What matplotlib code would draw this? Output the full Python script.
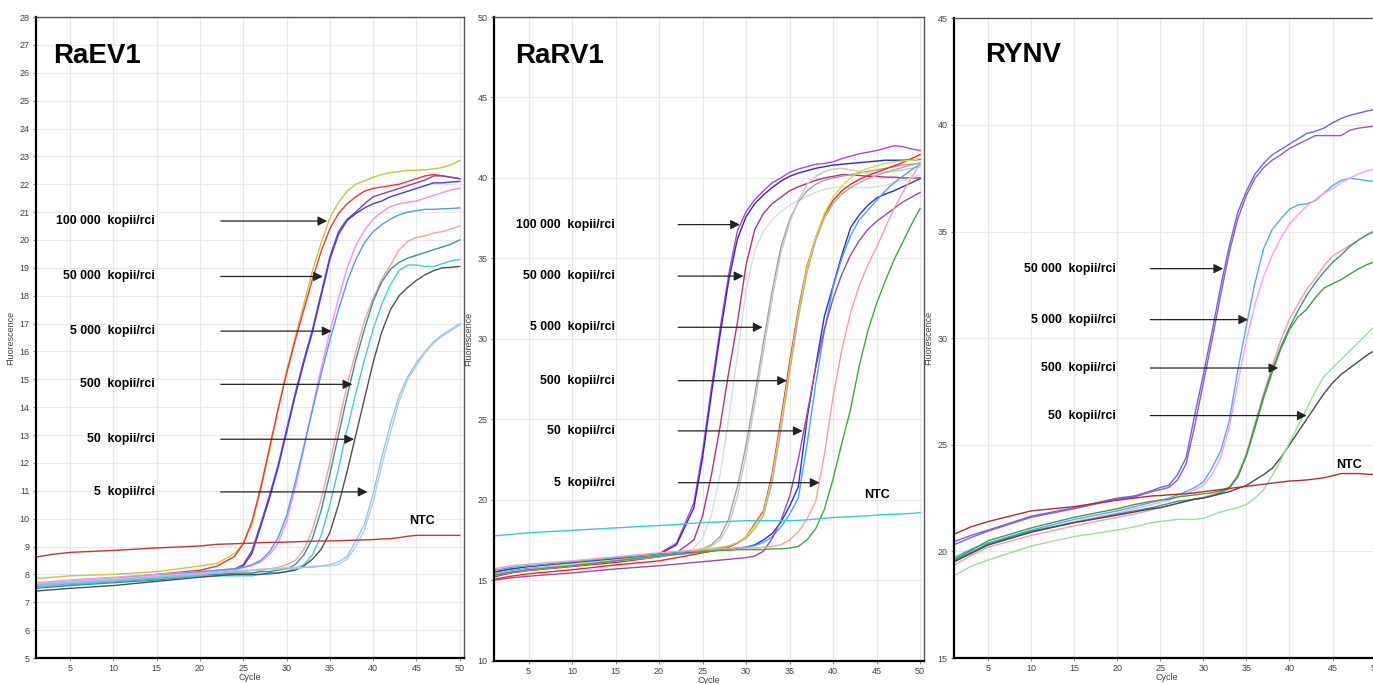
import matplotlib
matplotlib.use("Agg")
import matplotlib.pyplot as plt

# cykly, ve kterych jsou odectene hodnoty fluorescence
cycles = [1, 3, 5, 10, 15, 20, 22, 24, 25, 26, 27, 28, 29, 30, 31, 32, 33, 34,
          35, 36, 37, 38, 39, 40, 41, 42, 43, 44, 45, 46, 47, 48, 49, 50]

# ---------------- RaEV1 ----------------
raev1_curves = [
    [7.85, 7.9, 7.95, 8.0, 8.1, 8.3, 8.4, 8.75, 9.1, 9.8, 11.0, 12.4, 13.9, 15.3,
     16.5, 17.7, 18.9, 19.9, 20.8, 21.35, 21.75, 22.0, 22.12, 22.25, 22.35, 22.42,
     22.45, 22.5, 22.5, 22.52, 22.55, 22.6, 22.7, 22.85],
    [7.65, 7.7, 7.75, 7.85, 8.0, 8.15, 8.3, 8.65, 9.1, 9.9, 11.1, 12.5, 13.9, 15.2,
     16.4, 17.5, 18.6, 19.6, 20.4, 20.95, 21.3, 21.55, 21.75, 21.85, 21.9, 21.95,
     22.0, 22.1, 22.2, 22.3, 22.35, 22.3, 22.25, 22.2],
    [7.6, 7.65, 7.7, 7.8, 7.9, 8.05, 8.1, 8.2, 8.35, 8.85, 9.8, 10.8, 11.9, 13.2,
     14.5, 15.7, 16.8, 18.1, 19.4, 20.3, 20.75, 21.0, 21.3, 21.55, 21.65, 21.75,
     21.85, 21.95, 22.05, 22.15, 22.3, 22.3, 22.25, 22.2],
    [7.55, 7.6, 7.65, 7.75, 7.85, 8.0, 8.05, 8.15, 8.3, 8.75, 9.7, 10.7, 11.8, 13.1,
     14.4, 15.6, 16.7, 18.0, 19.3, 20.2, 20.7, 20.95, 21.15, 21.3, 21.4, 21.55,
     21.65, 21.75, 21.85, 21.95, 22.05, 22.05, 22.08, 22.1],
    [7.7, 7.75, 7.8, 7.9, 8.0, 8.1, 8.15, 8.2, 8.25, 8.3, 8.45, 8.7, 9.1, 9.9,
     11.1, 12.5, 14.0, 15.4, 16.7, 17.9, 19.0, 19.8, 20.35, 20.75, 21.0, 21.2,
     21.3, 21.35, 21.4, 21.5, 21.6, 21.7, 21.8, 21.85],
    [7.6, 7.65, 7.7, 7.8, 7.95, 8.1, 8.15, 8.2, 8.25, 8.35, 8.5, 8.8, 9.3, 10.1,
     11.3, 12.6, 13.9, 15.2, 16.4, 17.5, 18.5, 19.3, 19.9, 20.3, 20.55, 20.75,
     20.9, 21.0, 21.05, 21.1, 21.1, 21.12, 21.13, 21.15],
    [7.55, 7.6, 7.7, 7.8, 7.9, 8.0, 8.05, 8.1, 8.1, 8.15, 8.15, 8.2, 8.25, 8.35,
     8.5, 8.9, 9.6, 10.7, 12.0, 13.4, 14.8, 16.0, 17.1, 17.9, 18.6, 19.1,
     19.65, 19.95, 20.1, 20.15, 20.25, 20.3, 20.4, 20.5],
    [7.5, 7.55, 7.6, 7.7, 7.8, 7.95, 8.0, 8.05, 8.05, 8.05, 8.1, 8.1, 8.15, 8.2,
     8.35, 8.7, 9.3, 10.3, 11.6, 13.0, 14.4, 15.7, 16.8, 17.8, 18.5, 18.95,
     19.2, 19.35, 19.45, 19.55, 19.65, 19.75, 19.85, 20.0],
    [7.55, 7.6, 7.65, 7.75, 7.85, 7.95, 7.95, 7.95, 7.95, 7.95, 8.0, 8.0, 8.05, 8.1,
     8.2, 8.35, 8.7, 9.4, 10.5, 11.8, 13.2, 14.5, 15.7, 16.8, 17.7, 18.4,
     18.9, 19.1, 19.1, 19.05, 19.05, 19.15, 19.25, 19.3],
    [7.4, 7.45, 7.5, 7.6, 7.75, 7.9, 7.95, 8.0, 8.0, 8.0, 8.0, 8.05, 8.05, 8.1,
     8.15, 8.3, 8.55, 8.9, 9.5, 10.5, 11.7, 13.0, 14.3, 15.6, 16.7, 17.5,
     18.0, 18.3, 18.55, 18.75, 18.9, 19.0, 19.02, 19.05],
    [7.6, 7.65, 7.7, 7.8, 7.9, 8.0, 8.05, 8.1, 8.1, 8.15, 8.15, 8.2, 8.2, 8.2,
     8.2, 8.25, 8.25, 8.3, 8.35, 8.45, 8.65, 9.2, 9.8, 10.9, 12.2, 13.4,
     14.4, 15.1, 15.6, 16.0, 16.35, 16.6, 16.8, 17.0],
    [7.65, 7.7, 7.75, 7.85, 7.95, 8.05, 8.1, 8.15, 8.15, 8.15, 8.2, 8.2, 8.2, 8.25,
     8.25, 8.25, 8.3, 8.3, 8.3, 8.35, 8.55, 9.0, 9.6, 10.6, 11.9, 13.1,
     14.2, 15.0, 15.5, 15.95, 16.3, 16.55, 16.75, 16.95],
]
raev1_colors = ['#c8c832', '#ff3030', '#8c3cb4', '#3c3cff', '#ff88ff', '#4a9cff',
                '#ff9c9c', '#329696', '#3cd2d2', '#505050', '#90c8e0', '#b4c8e6']
raev1_ntc = [8.62, 8.72, 8.79, 8.86, 8.95, 9.02, 9.08, 9.1, 9.11, 9.12, 9.14, 9.15,
             9.15, 9.16, 9.17, 9.18, 9.19, 9.2, 9.2, 9.21, 9.22, 9.23, 9.24, 9.25,
             9.27, 9.28, 9.32, 9.37, 9.4, 9.4, 9.4, 9.4, 9.4, 9.4]

# ---------------- RaRV1 ----------------
rarv1_curves = [
    [15.5, 15.7, 15.8, 16.0, 16.3, 16.65, 17.3, 19.8, 23.0, 26.9, 30.6, 34.0, 36.7, 37.9,
     38.65, 39.2, 39.7, 40.0, 40.35, 40.55, 40.7, 40.85, 40.9, 41.0, 41.2, 41.35,
     41.5, 41.6, 41.7, 41.85, 42.0, 41.95, 41.8, 41.7],
    [15.4, 15.6, 15.75, 16.0, 16.25, 16.6, 17.2, 19.5, 22.6, 26.5, 30.2, 33.6, 36.2, 37.6,
     38.4, 38.95, 39.4, 39.8, 40.1, 40.3, 40.45, 40.6, 40.7, 40.8, 40.85, 40.9,
     40.95, 41.0, 41.05, 41.1, 41.1, 41.1, 41.12, 41.15],
    [15.2, 15.45, 15.6, 15.85, 16.1, 16.45, 16.7, 17.5, 19.0, 21.5, 24.5, 27.9, 31.0, 34.6,
     36.8, 37.8, 38.4, 38.8, 39.2, 39.45, 39.65, 39.85, 40.0, 40.1, 40.2, 40.2,
     40.15, 40.1, 40.1, 40.05, 40.05, 40.0, 40.0, 40.0],
    [15.45, 15.65, 15.8, 16.0, 16.3, 16.55, 16.6, 17.0, 17.6, 19.0, 21.5, 25.0, 29.0, 33.0,
     35.5, 36.7, 37.4, 37.9, 38.3, 38.6, 38.85, 39.1, 39.3, 39.4, 39.45, 39.4,
     39.4, 39.4, 39.45, 39.55, 39.7, 39.85, 40.0, 40.2],
    [15.3, 15.5, 15.65, 15.9, 16.2, 16.5, 16.7, 16.85, 16.95, 17.2, 17.7, 18.8, 20.8, 23.4,
     26.5, 29.8, 33.0, 35.7, 37.4, 38.5, 39.2, 39.6, 39.85, 40.0, 40.1, 40.2,
     40.3, 40.4, 40.5, 40.6, 40.7, 40.8, 40.85, 40.9],
    [15.35, 15.55, 15.7, 15.95, 16.25, 16.55, 16.7, 16.85, 16.95, 17.1, 17.5, 18.4, 20.2, 22.8,
     25.9, 29.2, 32.5, 35.3, 37.2, 38.6, 39.6, 40.1, 40.4, 40.55, 40.6, 40.5,
     40.4, 40.3, 40.3, 40.35, 40.4, 40.5, 40.6, 40.7],
    [15.05, 15.25, 15.4, 15.65, 15.95, 16.2, 16.4, 16.6, 16.7, 16.8, 16.9, 17.05, 17.3, 17.7,
     18.5, 19.3, 21.6, 25.0, 28.5, 31.8, 34.5, 36.3, 37.7, 38.6, 39.2, 39.6,
     39.9, 40.15, 40.35, 40.55, 40.75, 40.95, 41.2, 41.45],
    [15.5, 15.7, 15.85, 16.05, 16.3, 16.55, 16.7, 16.85, 16.95, 17.0, 17.05, 17.15, 17.35, 17.7,
     18.4, 19.2, 21.4, 24.7, 28.2, 31.6, 34.4, 36.3, 37.8, 38.8, 39.5, 40.0,
     40.4, 40.6, 40.75, 40.9, 41.0, 41.05, 41.1, 41.2],
    [15.3, 15.5, 15.65, 15.9, 16.2, 16.45, 16.6, 16.75, 16.85, 16.9, 17.0, 17.1, 17.3, 17.6,
     18.2, 19.0, 21.1, 24.3, 27.9, 31.3, 34.1, 36.1, 37.5, 38.4, 39.0, 39.4,
     39.7, 39.95, 40.15, 40.35, 40.5, 40.65, 40.8, 40.95],
    [15.5, 15.7, 15.85, 16.1, 16.35, 16.6, 16.7, 16.75, 16.8, 16.85, 16.9, 16.95, 17.0, 17.05,
     17.2, 17.5, 17.9, 18.6, 19.6, 20.8, 25.0, 28.3, 31.4, 33.3, 35.2, 36.9,
     37.7, 38.3, 38.75, 39.0, 39.2, 39.45, 39.7, 39.95],
    [15.6, 15.8, 15.9, 16.15, 16.4, 16.6, 16.7, 16.8, 16.8, 16.85, 16.9, 16.95, 17.0, 17.05,
     17.15, 17.35, 17.7, 18.3, 19.1, 20.1, 23.4, 27.2, 30.5, 33.2, 35.0, 36.4,
     37.4, 38.0, 38.6, 39.2, 39.7, 40.1, 40.5, 40.85],
    [15.0, 15.15, 15.25, 15.45, 15.7, 15.9, 16.0, 16.1, 16.15, 16.2, 16.25, 16.3, 16.35, 16.4,
     16.5, 16.8, 17.6, 18.7, 20.2, 22.5, 25.3, 28.2, 30.6, 32.5, 34.0, 35.2,
     36.1, 36.8, 37.3, 37.7, 38.1, 38.5, 38.8, 39.1],
    [15.7, 15.9, 16.0, 16.2, 16.45, 16.7, 16.8, 16.85, 16.9, 16.9, 16.95, 16.95, 17.0, 17.0,
     17.0, 17.05, 17.1, 17.2, 17.5, 18.0, 18.8, 19.9, 22.8, 26.4, 29.3, 31.6,
     33.3, 34.6, 35.7, 36.9, 38.1, 39.1, 40.0, 40.9],
    [15.3, 15.5, 15.65, 15.9, 16.2, 16.5, 16.6, 16.7, 16.75, 16.8, 16.85, 16.85, 16.9, 16.9,
     16.9, 16.9, 16.95, 16.95, 17.0, 17.1, 17.5, 18.2, 19.4, 21.3, 23.5, 25.6,
     28.3, 30.5, 32.2, 33.6, 34.9, 36.0, 37.1, 38.1],
]
rarv1_colors = ['#c040d0', '#2828e0', '#c8287a', '#dcdcdc', '#a0a0a0', '#c8c8c8',
                '#ff2020', '#e0e020', '#b0b0b0', '#2030f0', '#40a8ff', '#9c48b0',
                '#ff9c9c', '#40a840']
rarv1_ntc = [17.75, 17.85, 17.95, 18.1, 18.25, 18.4, 18.45, 18.55, 18.58, 18.6, 18.62,
             18.65, 18.68, 18.7, 18.7, 18.7, 18.7, 18.7, 18.7, 18.72, 18.75, 18.8,
             18.85, 18.9, 18.92, 18.95, 18.98, 19.0, 19.05, 19.08, 19.1, 19.12, 19.15, 19.2]

# ---------------- RYNV ----------------
rynv_curves = [
    [20.45, 20.75, 21.0, 21.65, 22.05, 22.5, 22.6, 22.85, 23.0, 23.1, 23.6, 24.4, 26.4, 28.3,
     30.3, 32.4, 34.3, 35.9, 36.9, 37.7, 38.2, 38.6, 38.85, 39.1, 39.35, 39.6,
     39.7, 39.85, 40.1, 40.3, 40.45, 40.55, 40.65, 40.75],
    [20.3, 20.65, 20.95, 21.6, 22.0, 22.45, 22.55, 22.8, 22.9, 23.0, 23.35, 24.1, 25.9, 27.9,
     29.9, 32.0, 34.0, 35.6, 36.7, 37.5, 38.0, 38.35, 38.6, 38.9, 39.1, 39.3,
     39.5, 39.5, 39.5, 39.5, 39.75, 39.85, 39.9, 39.95],
    [19.7, 20.1, 20.4, 21.0, 21.5, 21.9, 22.1, 22.3, 22.4, 22.5, 22.65, 22.8, 23.0, 23.25,
     23.9, 24.7, 26.1, 28.5, 30.6, 32.6, 34.2, 35.1, 35.6, 36.05, 36.25, 36.3,
     36.45, 36.8, 37.15, 37.4, 37.5, 37.45, 37.38, 37.35],
    [19.6, 20.0, 20.3, 20.9, 21.4, 21.8, 22.0, 22.2, 22.3, 22.4, 22.55, 22.7, 22.9, 23.1,
     23.6, 24.4, 25.8, 27.9, 29.9, 31.6, 32.9, 33.9, 34.7, 35.35, 35.8, 36.2,
     36.5, 36.8, 37.0, 37.3, 37.5, 37.7, 37.85, 37.95],
    [19.35, 19.8, 20.2, 20.75, 21.2, 21.6, 21.75, 21.95, 22.05, 22.15, 22.25, 22.35, 22.45, 22.55,
     22.65, 22.8, 23.0, 23.6, 24.6, 26.0, 27.4, 28.7, 29.9, 30.9, 31.6, 32.3,
     32.8, 33.4, 33.85, 34.1, 34.35, 34.6, 34.85, 35.05],
    [19.55, 19.95, 20.35, 20.95, 21.35, 21.75, 21.9, 22.05, 22.15, 22.25, 22.35, 22.4, 22.45, 22.5,
     22.6, 22.75, 22.95, 23.5, 24.5, 25.9, 27.3, 28.5, 29.6, 30.5, 31.3, 32.0,
     32.6, 33.1, 33.55, 33.9, 34.3, 34.6, 34.85, 35.05],
    [19.6, 20.05, 20.5, 21.1, 21.6, 22.0, 22.2, 22.35, 22.4, 22.45, 22.55, 22.6, 22.65, 22.7,
     22.75, 22.85, 23.0, 23.5, 24.5, 25.8, 27.2, 28.4, 29.5, 30.4, 31.0, 31.35,
     31.9, 32.35, 32.55, 32.75, 33.0, 33.25, 33.45, 33.6],
    [19.5, 19.9, 20.3, 20.9, 21.35, 21.7, 21.85, 22.0, 22.05, 22.15, 22.25, 22.35, 22.45, 22.5,
     22.6, 22.7, 22.8, 22.95, 23.1, 23.35, 23.6, 23.9, 24.4, 25.0, 25.6, 26.2,
     26.8, 27.4, 27.9, 28.3, 28.6, 28.9, 29.2, 29.45],
    [18.85, 19.3, 19.6, 20.25, 20.7, 21.0, 21.15, 21.35, 21.4, 21.45, 21.5, 21.5, 21.5, 21.55,
     21.7, 21.85, 21.95, 22.05, 22.2, 22.5, 22.9, 23.55, 24.3, 25.1, 25.9, 26.7,
     27.5, 28.2, 28.6, 29.0, 29.4, 29.8, 30.2, 30.6],
]
rynv_colors = ['#6464ff', '#9c58b8', '#50a8ff', '#ff9cff', '#ff9c9c', '#2e9a8a',
               '#40a040', '#4a4a4a', '#98e098']
rynv_ntc = [20.8, 21.15, 21.4, 21.9, 22.1, 22.4, 22.5, 22.6, 22.62, 22.65, 22.68, 22.7,
            22.75, 22.8, 22.85, 22.9, 22.95, 23.0, 23.05, 23.1, 23.15, 23.2, 23.25, 23.3,
            23.32, 23.35, 23.4, 23.45, 23.55, 23.65, 23.65, 23.65, 23.62, 23.6]

copies6 = ['100 000  kopii/rci', '50 000  kopii/rci', '5 000  kopii/rci',
           '500  kopii/rci', '50  kopii/rci', '5  kopii/rci']
copies4 = ['50 000  kopii/rci', '5 000  kopii/rci', '500  kopii/rci', '50  kopii/rci']

plt.rcParams['font.family'] = ['Liberation Sans', 'DejaVu Sans']

fig = plt.figure(figsize=(13.73, 6.84), dpi=100)


def panel(rect, ylim, ystep, curves, colors, ntc, ntc_color, title, title_xy,
          labels, label_ys, text_x, arrow_x0, arrow_ends, ntc_xy):
    ax = fig.add_axes(rect)
    ax.set_xlim(1, 50.5)
    ax.set_ylim(*ylim)
    ax.set_xticks(range(5, 51, 5))
    ax.set_yticks(range(ylim[0], ylim[1] + 1, ystep))
    ax.grid(True, color='#e8e8e8', lw=0.8)
    ax.set_axisbelow(True)
    ax.tick_params(labelsize=6.5, labelcolor='#404048', color='#888888', length=2.5, pad=2)
    for side in ['left', 'bottom']:
        ax.spines[side].set_linewidth(1.6)
        ax.spines[side].set_color('black')
    for side in ['top', 'right']:
        ax.spines[side].set_linewidth(1.0)
        ax.spines[side].set_color('#555555')
    ax.set_xlabel('Cycle', fontsize=6.5, labelpad=0, color='#404048')
    ax.set_ylabel('Fluorescence', fontsize=6.5, labelpad=3, color='#404048')

    for vals, col in zip(curves, colors):
        ax.plot(cycles, vals, color=col, lw=1.0)
    ax.plot(cycles, ntc, color=ntc_color, lw=1.0)

    ax.text(title_xy[0], title_xy[1], title, fontsize=20, fontweight='bold',
            ha='left', va='center')
    for lab, y, x1 in zip(labels, label_ys, arrow_ends):
        ax.text(text_x, y, lab, fontsize=8.8, fontweight='bold', ha='right', va='center')
        ax.annotate('', xy=(x1, y), xytext=(arrow_x0, y),
                    arrowprops=dict(arrowstyle='-|>', color='#222222', lw=0.9,
                                    mutation_scale=14, shrinkA=0, shrinkB=0))
    ax.text(ntc_xy[0], ntc_xy[1], 'NTC', fontsize=9, fontweight='bold',
            ha='center', va='center')
    return ax


panel([0.02586, 0.0380, 0.3121, 0.9371], (5, 28), 1, raev1_curves, raev1_colors,
      raev1_ntc, '#c83232', 'RaEV1', (3.0, 26.6), copies6,
      [20.68, 18.69, 16.73, 14.82, 12.85, 10.96], 14.8, 22.4,
      [34.7, 34.2, 35.2, 37.6, 37.8, 39.35], (45.6, 9.92))

panel([0.3596, 0.0341, 0.3137, 0.9410], (10, 50), 5, rarv1_curves, rarv1_colors,
      rarv1_ntc, '#30d0d0', 'RaRV1', (3.45, 47.6), copies6,
      [37.1, 33.9, 30.72, 27.4, 24.28, 21.06], 14.9, 22.2,
      [29.3, 29.7, 31.9, 34.7, 36.5, 38.45], (45.0, 20.27))

panel([0.6946, 0.0380, 0.3104, 0.9352], (15, 45), 5, rynv_curves, rynv_colors,
      rynv_ntc, '#c02828', 'RYNV', (4.6, 43.3), copies4,
      [33.26, 30.87, 28.6, 26.37], 19.85, 23.85,
      [32.3, 35.2, 38.7, 42.0], (46.9, 24.06))

fig.savefig('out.png', dpi=100)
